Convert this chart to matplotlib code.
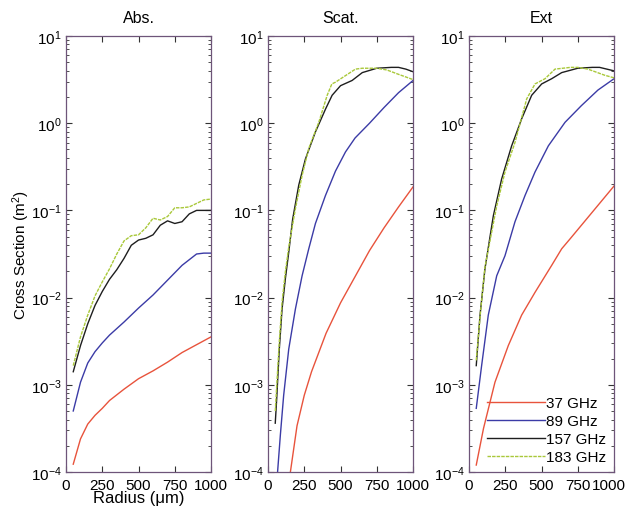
import numpy as np
import matplotlib
matplotlib.use("Agg")
import matplotlib.pyplot as plt
import matplotlib.transforms as mtransforms

plt.rcParams['font.family'] = ['Liberation Sans', 'DejaVu Sans']
plt.rcParams['mathtext.fontset'] = 'custom'
plt.rcParams['mathtext.rm'] = 'Liberation Sans'
plt.rcParams['mathtext.it'] = 'Liberation Sans:italic'
plt.rcParams['mathtext.default'] = 'regular'

# radius (um) and log10 of cross section (m^2)
# --- Abs.
abs_x37 = [50, 100, 150, 200, 250, 300, 400, 500, 600, 700, 800, 900, 1000]
abs_y37 = [-3.91, -3.62, -3.45, -3.35, -3.27, -3.18, -3.05, -2.93, -2.84, -2.74, -2.63, -2.54, -2.45]
abs_x89 = [50, 100, 150, 200, 250, 300, 400, 500, 600, 700, 800, 900, 950, 1000]
abs_y89 = [-3.30, -2.97, -2.75, -2.62, -2.52, -2.43, -2.28, -2.12, -1.97, -1.80, -1.63, -1.50, -1.49, -1.49]
abs_x157 = [50, 100, 150, 200, 250, 300, 350, 400, 450, 500, 550, 600, 650, 700, 750, 800, 850, 900, 950, 1000]
abs_y157 = [-2.85, -2.55, -2.30, -2.09, -1.93, -1.79, -1.68, -1.55, -1.40, -1.34, -1.32, -1.28, -1.17, -1.12,
            -1.15, -1.13, -1.04, -1.00, -1.00, -1.00]
abs_x183 = [50, 100, 150, 200, 250, 300, 350, 400, 450, 500, 550, 600, 650, 700, 750, 800, 850, 900, 950, 1000]
abs_y183 = [-2.78, -2.45, -2.20, -1.98, -1.82, -1.67, -1.50, -1.35, -1.29, -1.28, -1.20, -1.09, -1.11, -1.07,
            -0.97, -0.97, -0.96, -0.92, -0.88, -0.87]

# --- Scat.
sca_x37 = [150, 200, 250, 300, 400, 500, 600, 700, 800, 900, 1000]
sca_y37 = [-4.05, -3.47, -3.12, -2.85, -2.41, -2.06, -1.76, -1.46, -1.20, -0.96, -0.73]
sca_x89 = [50, 66, 85, 108, 143, 189, 235, 281, 327, 396, 465, 534, 600, 700, 800, 900, 1000]
sca_y89 = [-4.6, -4.0, -3.58, -3.12, -2.59, -2.13, -1.75, -1.44, -1.15, -0.83, -0.55, -0.33, -0.17, 0.0,
           0.18, 0.35, 0.49]
sca_x157 = [50, 60, 78, 97, 120, 143, 170, 212, 258, 327, 396, 442, 500, 580, 650, 750, 850, 900, 950, 1000]
sca_y157 = [-3.44, -3.16, -2.59, -2.13, -1.78, -1.48, -1.10, -0.71, -0.41, -0.10, 0.16, 0.32, 0.43, 0.49,
            0.58, 0.63, 0.64, 0.64, 0.62, 0.59]
sca_x183 = [50, 78, 97, 120, 143, 189, 235, 281, 350, 408, 440, 465, 520, 603, 650, 705, 750, 820, 900, 1000]
sca_y183 = [-3.30, -2.50, -2.05, -1.70, -1.42, -0.98, -0.60, -0.29, 0.01, 0.32, 0.45, 0.47, 0.53, 0.62,
            0.63, 0.63, 0.63, 0.61, 0.56, 0.50]

# --- Ext
ext_x37 = [50, 100, 179, 271, 363, 455, 570, 639, 700, 800, 900, 1000]
ext_y37 = [-3.92, -3.50, -2.97, -2.55, -2.20, -1.94, -1.63, -1.44, -1.32, -1.12, -0.92, -0.72]
ext_x89 = [50, 87, 133, 191, 248, 317, 386, 455, 547, 662, 774, 889, 1000]
ext_y89 = [-3.27, -2.78, -2.20, -1.75, -1.52, -1.13, -0.83, -0.56, -0.26, 0.01, 0.20, 0.38, 0.51]
ext_x157 = [50, 76, 110, 145, 168, 225, 294, 363, 432, 501, 570, 639, 750, 850, 900, 950, 1000]
ext_y157 = [-2.78, -2.20, -1.67, -1.30, -1.06, -0.64, -0.26, 0.05, 0.32, 0.45, 0.51, 0.58, 0.63, 0.64,
            0.64, 0.62, 0.60]
ext_x183 = [50, 80, 110, 133, 191, 248, 317, 398, 455, 524, 593, 700, 750, 820, 935, 1000]
ext_y183 = [-2.72, -2.15, -1.65, -1.45, -0.95, -0.56, -0.22, 0.28, 0.45, 0.51, 0.62, 0.64, 0.64, 0.62,
            0.55, 0.52]

labels = ['37 GHz', '89 GHz', '157 GHz', '183 GHz']
titles = ['Abs.', 'Scat.', 'Ext']
colors = ['#e8533c', '#3b3ba6', '#1e1e1e', '#a9c83a']
styles = ['-', '-', '-', (0, (2.5, 0.8))]

panels = [
    [(abs_x37, abs_y37), (abs_x89, abs_y89), (abs_x157, abs_y157), (abs_x183, abs_y183)],
    [(sca_x37, sca_y37), (sca_x89, sca_y89), (sca_x157, sca_y157), (sca_x183, sca_y183)],
    [(ext_x37, ext_y37), (ext_x89, ext_y89), (ext_x157, ext_y157), (ext_x183, ext_y183)],
]

fig = plt.figure(figsize=(6.28, 5.10), dpi=100)
lefts = [66 / 628, 268 / 628, 469 / 628]
frame = '#6e5579'

for i, left in enumerate(lefts):
    ax = fig.add_axes([left, 0.0725, 0.231, 0.855])
    for (x, y), c, ls, lab in zip(panels[i], colors, styles, labels):
        ax.plot(x, 10 ** np.array(y), color=c, ls=ls, lw=1.0, label=lab)
    ax.set_yscale('log')
    ax.set_ylim(1e-4, 10)
    ax.set_xlim(0, 1000)
    ax.set_xticks([0, 250, 500, 750, 1000])
    ax.set_yticks([1e-4, 1e-3, 1e-2, 1e-1, 1, 10])
    ax.set_yticklabels(['$10^{-4}$', '$10^{-3}$', '$10^{-2}$', '$10^{-1}$', '$10^{0}$', '$10^{1}$'])
    ax.tick_params(which='both', direction='in', top=True, right=True,
                   labelsize=11, color='#333333')
    ax.tick_params(which='major', length=4, pad=3)
    ax.tick_params(axis='x', which='major', pad=4)
    ax.tick_params(which='minor', length=2)
    for sp in ax.spines.values():
        sp.set_color(frame)
        sp.set_linewidth(0.9)
    ax.set_title(titles[i], fontsize=11.5, pad=10)
    if i == 0:
        ax.set_ylabel('Cross Section (m$^2$)', fontsize=11, labelpad=-1)
        ax.set_xlabel('Radius (\u03bcm)', fontsize=12, labelpad=-1)
    if i == 2:
        ax.legend(loc='lower right', frameon=False, fontsize=11, handlelength=3.8,
                  handletextpad=0.1, labelspacing=0.27, borderaxespad=0.1)
        # keep the last tick label inside the canvas
        last = ax.get_xticklabels()[-1]
        last.set_transform(last.get_transform() +
                           mtransforms.ScaledTranslation(-4 / 72, 0, fig.dpi_scale_trans))

plt.savefig('out.png', dpi=100)
